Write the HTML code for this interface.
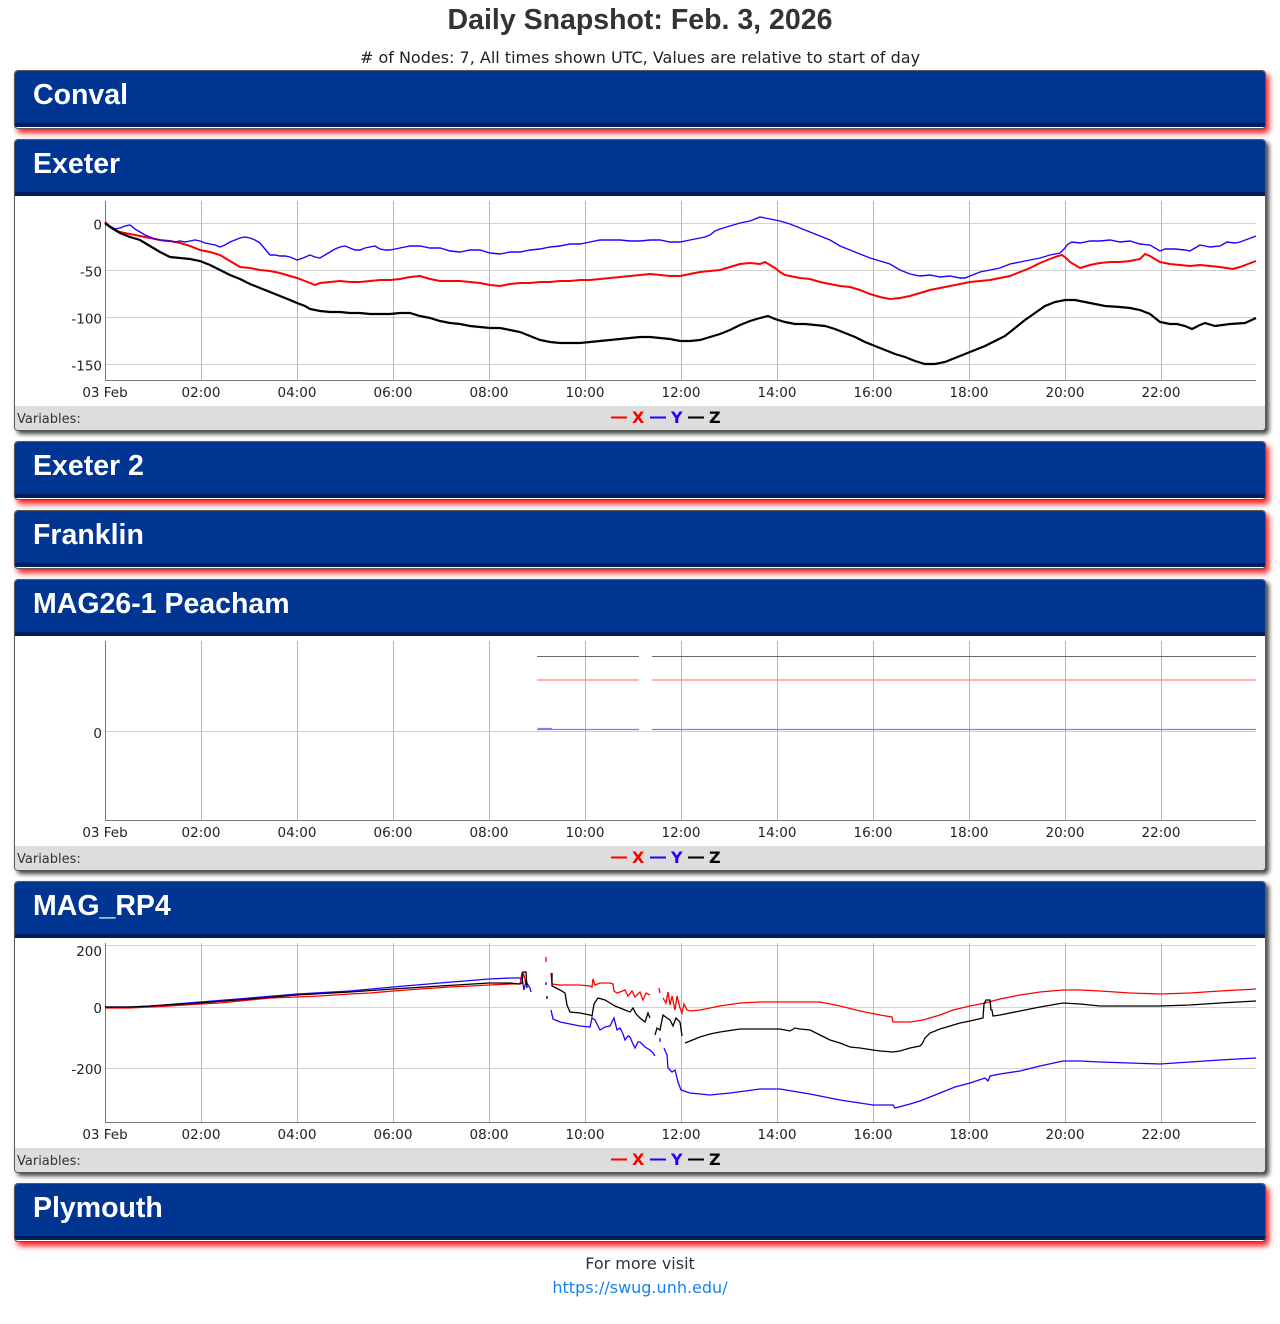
<!DOCTYPE html>
<html><head><meta charset="utf-8">
<style>
html,body{margin:0;padding:0;}
body{width:1280px;height:1324px;position:relative;background:#fff;overflow:hidden;font-family:"Liberation Sans","DejaVu Sans",sans-serif;}
.p{position:absolute;left:14px;width:1252px;box-sizing:border-box;border:1px solid #5a5a5a;border-radius:4px;background:#fff;overflow:hidden;}
.c{height:59px;box-shadow:3px 4px 6px rgba(255,0,0,0.9);}
.e{height:292px;box-shadow:3px 3px 5px rgba(0,0,0,0.75);}
.h{height:52px;background:#003591;border-bottom:4px solid #001e5c;}
.ch{height:210px;background:#fff;}
.vb{height:24px;background:#dddddd;}
svg{position:absolute;left:0;top:0;}
</style></head>
<body>
<div class="p c" style="top:70px"><div class="h"></div></div>
<div class="p e" style="top:139px"><div class="h"></div><div class="ch"></div><div class="vb"></div></div>
<div class="p c" style="top:441px"><div class="h"></div></div>
<div class="p c" style="top:510px"><div class="h"></div></div>
<div class="p e" style="top:579px"><div class="h"></div><div class="ch"></div><div class="vb"></div></div>
<div class="p e" style="top:881px"><div class="h"></div><div class="ch"></div><div class="vb"></div></div>
<div class="p c" style="top:1183px"><div class="h"></div></div>

<svg width="1280" height="1324" viewBox="0 0 1280 1324" xmlns="http://www.w3.org/2000/svg">
<text x="640" y="29" font-family="Liberation Sans, sans-serif" font-weight="bold" font-size="28.5" fill="#333" text-anchor="middle">Daily Snapshot: Feb. 3, 2026</text>
<text x="640" y="63" font-family="DejaVu Sans, sans-serif" font-size="16" fill="#222" text-anchor="middle"># of Nodes: 7, All times shown UTC, Values are relative to start of day</text>

<g font-family="Liberation Sans, sans-serif" font-weight="bold" font-size="28.5" fill="#fff">
<text x="33" y="104">Conval</text>
<text x="33" y="173">Exeter</text>
<text x="33" y="475">Exeter 2</text>
<text x="33" y="544">Franklin</text>
<text x="33" y="613">MAG26-1 Peacham</text>
<text x="33" y="915">MAG_RP4</text>
<text x="33" y="1217">Plymouth</text>
</g>

<!-- ===== Exeter chart ===== -->
<g>
<g stroke="#d2d2d2" stroke-width="1">
<line x1="105" y1="223.5" x2="1256" y2="223.5"/>
<line x1="105" y1="270.5" x2="1256" y2="270.5"/>
<line x1="105" y1="317.5" x2="1256" y2="317.5"/>
<line x1="105" y1="364.5" x2="1256" y2="364.5"/>
</g>
<g stroke="#b8b8b8" stroke-width="1">
<line x1="201.5" y1="201" x2="201.5" y2="380"/><line x1="297.5" y1="201" x2="297.5" y2="380"/>
<line x1="393.5" y1="201" x2="393.5" y2="380"/><line x1="489.5" y1="201" x2="489.5" y2="380"/>
<line x1="585.5" y1="201" x2="585.5" y2="380"/><line x1="681.5" y1="201" x2="681.5" y2="380"/>
<line x1="777.5" y1="201" x2="777.5" y2="380"/><line x1="873.5" y1="201" x2="873.5" y2="380"/>
<line x1="969.5" y1="201" x2="969.5" y2="380"/><line x1="1065.5" y1="201" x2="1065.5" y2="380"/>
<line x1="1161.5" y1="201" x2="1161.5" y2="380"/>
</g>
<g stroke="#777" stroke-width="1">
<line x1="105.5" y1="201" x2="105.5" y2="380.5"/>
<line x1="105" y1="380.5" x2="1256" y2="380.5"/>
</g>
<g font-family="DejaVu Sans, sans-serif" font-size="13.5" fill="#222" text-anchor="end">
<text x="102" y="229.5">0</text><text x="102" y="276.5">-50</text><text x="102" y="323.5">-100</text><text x="102" y="370.5">-150</text>
</g>
<g font-family="DejaVu Sans, sans-serif" font-size="13.5" fill="#222" text-anchor="middle">
<text x="105" y="397">03 Feb</text><text x="201" y="397">02:00</text><text x="297" y="397">04:00</text><text x="393" y="397">06:00</text><text x="489" y="397">08:00</text><text x="585" y="397">10:00</text><text x="681" y="397">12:00</text><text x="777" y="397">14:00</text><text x="873" y="397">16:00</text><text x="969" y="397">18:00</text><text x="1065" y="397">20:00</text><text x="1161" y="397">22:00</text>
</g>
<polyline fill="none" stroke="#ff0000" stroke-width="2" points="105,222 110,227 115,230 120,232 130,234 140,236 150,238 160,240 170,241 180,243 190,246 200,250 210,252 220,255 230,261 240,267 250,268 260,270 270,271 280,273 290,276 297,278 305,281 315,285 320,283 330,282 340,281 350,282 360,282 370,281 380,280 390,280 400,279 410,277 420,276 430,279 440,281 450,281 460,281 470,282 480,283 490,285 500,286 510,284 520,283 530,283 540,282 550,282 560,281 570,281 580,280 590,280 600,279 610,278 620,277 630,276 640,275 650,274 660,275 670,276 680,276 690,274 700,272 710,271 720,270 730,267 740,264 750,263 760,264 765,262 770,265 775,268 780,272 785,275 790,276 800,278 810,279 820,282 830,284 840,286 850,287 860,290 870,294 880,297 890,299 900,298 910,296 920,293 930,290 940,288 950,286 960,284 970,282 980,281 990,280 1000,278 1010,276 1020,272 1030,268 1040,263 1050,259 1058,256 1062,255 1066,258 1070,262 1080,268 1090,265 1100,263 1110,262 1120,262 1130,261 1140,259 1145,254 1150,256 1155,259 1160,262 1170,264 1180,265 1190,266 1200,265 1210,266 1220,267 1233,269 1240,267 1248,264 1256,261"/>
<polyline fill="none" stroke="#2200ff" stroke-width="1.4" points="105,223 110,226 115,229 120,228 125,226 130,225 135,229 140,232 145,235 150,237 155,239 160,240 165,241 170,241 175,242 180,241 185,242 190,241 195,240 200,241 205,243 210,244 215,245 220,247 225,245 230,242 235,240 240,238 245,237 250,238 255,240 260,243 265,249 270,255 275,255 280,256 285,256 290,257 297,260 303,258 310,255 315,257 320,258 325,255 330,252 335,249 340,247 345,246 350,248 355,250 360,250 365,248 370,247 375,246 380,249 385,250 390,250 395,249 400,248 410,246 420,246 430,248 440,248 450,251 460,252 470,250 480,250 490,253 500,254 510,252 520,252 530,250 540,249 550,247 560,246 570,244 580,244 590,242 600,240 610,240 620,240 630,241 640,241 650,240 660,240 670,242 680,242 690,240 700,238 705,237 710,235 715,231 720,229 730,226 740,223 750,221 755,219 760,217 765,218 770,219 780,221 790,224 800,228 810,232 820,236 830,240 840,246 850,250 860,254 870,258 880,261 890,264 900,270 910,274 920,276 930,275 940,277 950,276 960,278 965,278 970,276 980,272 990,270 1000,268 1010,264 1020,262 1030,260 1040,258 1050,255 1060,253 1064,249 1068,244 1072,242 1080,243 1090,241 1100,241 1110,240 1120,242 1130,241 1140,244 1150,245 1155,248 1160,251 1165,249 1175,249 1185,250 1190,251 1195,248 1200,245 1210,247 1220,246 1227,242 1235,243 1240,242 1248,239 1256,236"/>
<polyline fill="none" stroke="#000" stroke-width="2.2" points="105,223 110,227 120,233 130,237 140,240 150,246 160,252 170,257 180,258 190,259 200,261 210,265 220,270 230,275 240,279 250,284 260,288 270,292 280,296 290,300 297,303 305,306 310,309 320,311 330,312 340,312 350,313 360,313 370,314 380,314 390,314 400,313 410,313 420,316 430,318 440,321 450,323 460,324 470,326 480,327 490,328 500,328 510,330 520,332 530,336 540,340 550,342 560,343 570,343 580,343 590,342 600,341 610,340 620,339 630,338 640,337 650,337 660,338 670,339 680,341 690,341 700,340 710,337 720,334 730,330 740,325 750,321 760,318 768,316 775,319 785,322 795,324 805,324 815,325 825,326 835,329 845,333 855,337 865,342 875,346 885,350 895,354 905,357 915,361 925,364 935,364 945,362 955,358 965,354 975,350 985,346 995,341 1005,336 1015,328 1025,320 1035,313 1045,306 1055,302 1065,300 1075,300 1085,302 1095,304 1105,306 1120,307 1130,308 1140,310 1150,314 1160,322 1170,324 1177,324 1185,326 1192,329 1200,325 1205,323 1215,326 1230,324 1245,323 1256,318"/>
</g>

<!-- ===== Peacham chart ===== -->
<g>
<line x1="105" y1="731.5" x2="1256" y2="731.5" stroke="#d2d2d2"/>
<g stroke="#b8b8b8" stroke-width="1">
<line x1="201.5" y1="641" x2="201.5" y2="820"/><line x1="297.5" y1="641" x2="297.5" y2="820"/>
<line x1="393.5" y1="641" x2="393.5" y2="820"/><line x1="489.5" y1="641" x2="489.5" y2="820"/>
<line x1="585.5" y1="641" x2="585.5" y2="820"/><line x1="681.5" y1="641" x2="681.5" y2="820"/>
<line x1="777.5" y1="641" x2="777.5" y2="820"/><line x1="873.5" y1="641" x2="873.5" y2="820"/>
<line x1="969.5" y1="641" x2="969.5" y2="820"/><line x1="1065.5" y1="641" x2="1065.5" y2="820"/>
<line x1="1161.5" y1="641" x2="1161.5" y2="820"/>
</g>
<g stroke="#777" stroke-width="1">
<line x1="105.5" y1="641" x2="105.5" y2="820.5"/>
<line x1="105" y1="820.5" x2="1256" y2="820.5"/>
</g>
<text x="102" y="738" font-family="DejaVu Sans, sans-serif" font-size="13.5" fill="#222" text-anchor="end">0</text>
<g font-family="DejaVu Sans, sans-serif" font-size="13.5" fill="#222" text-anchor="middle">
<text x="105" y="837">03 Feb</text><text x="201" y="837">02:00</text><text x="297" y="837">04:00</text><text x="393" y="837">06:00</text><text x="489" y="837">08:00</text><text x="585" y="837">10:00</text><text x="681" y="837">12:00</text><text x="777" y="837">14:00</text><text x="873" y="837">16:00</text><text x="969" y="837">18:00</text><text x="1065" y="837">20:00</text><text x="1161" y="837">22:00</text>
</g>
<path d="M537,656.5 H639 M652,656.5 H1256" stroke="#6a6a6a" stroke-width="1" fill="none"/>
<path d="M537,680 H639 M652,680 H1256" stroke="#ff9a9a" stroke-width="1.6" fill="none"/>
<path d="M537,729.5 H639 M652,729.5 H1256 M538,728.5 H552" stroke="#7a7aff" stroke-width="1.2" fill="none"/>
</g>

<!-- ===== MAG_RP4 chart ===== -->
<g>
<g stroke="#d2d2d2" stroke-width="1">
<line x1="105" y1="945.5" x2="1256" y2="945.5"/>
<line x1="105" y1="1007.5" x2="1256" y2="1007.5"/>
<line x1="105" y1="1068.5" x2="1256" y2="1068.5"/>
</g>
<g stroke="#b8b8b8" stroke-width="1">
<line x1="201.5" y1="943" x2="201.5" y2="1122"/><line x1="297.5" y1="943" x2="297.5" y2="1122"/>
<line x1="393.5" y1="943" x2="393.5" y2="1122"/><line x1="489.5" y1="943" x2="489.5" y2="1122"/>
<line x1="585.5" y1="943" x2="585.5" y2="1122"/><line x1="681.5" y1="943" x2="681.5" y2="1122"/>
<line x1="777.5" y1="943" x2="777.5" y2="1122"/><line x1="873.5" y1="943" x2="873.5" y2="1122"/>
<line x1="969.5" y1="943" x2="969.5" y2="1122"/><line x1="1065.5" y1="943" x2="1065.5" y2="1122"/>
<line x1="1161.5" y1="943" x2="1161.5" y2="1122"/>
</g>
<g stroke="#777" stroke-width="1">
<line x1="105.5" y1="943" x2="105.5" y2="1122.5"/>
<line x1="105" y1="1122.5" x2="1256" y2="1122.5"/>
</g>
<g font-family="DejaVu Sans, sans-serif" font-size="13.5" fill="#222" text-anchor="end">
<text x="102" y="956">200</text><text x="102" y="1013">0</text><text x="102" y="1074">-200</text>
</g>
<g font-family="DejaVu Sans, sans-serif" font-size="13.5" fill="#222" text-anchor="middle">
<text x="105" y="1139">03 Feb</text><text x="201" y="1139">02:00</text><text x="297" y="1139">04:00</text><text x="393" y="1139">06:00</text><text x="489" y="1139">08:00</text><text x="585" y="1139">10:00</text><text x="681" y="1139">12:00</text><text x="777" y="1139">14:00</text><text x="873" y="1139">16:00</text><text x="969" y="1139">18:00</text><text x="1065" y="1139">20:00</text><text x="1161" y="1139">22:00</text>
</g>
<g fill="none" stroke="#ff0000" stroke-width="1.3">
<polyline points="105,1008 130,1008 150,1007 170,1006 200,1004 220,1003 250,1000 270,998 297,997 320,996 350,994 370,993 393,991 420,989 450,987 470,986 489,985 510,984 520,984 522,973 524,975 526,985"/>
<polyline points="546,957 546,962"/>
<polyline points="551,973 552,984 560,985 570,985 580,985 590,986 592,987 593,979 595,985 600,983 610,983 613,984 614,991 617,993 620,992 625,990 628,996 632,991 635,997 640,992 643,1000 646,993 650,995"/>
<polyline points="659,988 660,993"/>
<polyline points="663,998 666,1003 668,992 670,1005 672,996 675,1010 677,996 680,1008 682,1013 684,1004 687,1010 690,1011 700,1010 720,1006 740,1003 760,1002 780,1002 800,1002 820,1002 840,1006 860,1011 880,1015 892,1017 893,1022 910,1022 923,1020 940,1015 953,1010 970,1006 985,1003 1000,999 1020,995 1040,992 1063,990 1080,990 1100,991 1130,993 1160,994 1190,993 1220,991 1256,989"/>
</g>
<g fill="none" stroke="#2200ff" stroke-width="1.3">
<polyline points="105,1007 130,1007 150,1006 200,1002 250,998 297,994 350,991 393,987 440,983 489,979 510,978 522,978 524,990 526,981 528,985 530,988 531,992"/>
<polyline points="546,982 546,985"/>
<polyline points="551,1010 553,1019 560,1022 570,1024 580,1026 590,1027 592,1018 595,1020 597,1024 600,1030 605,1027 610,1026 614,1018 617,1030 620,1028 623,1034 625,1040 628,1036 630,1037 633,1044 635,1048 638,1042 640,1042 645,1047 650,1050 653,1053 655,1056"/>
<polyline points="660,1038 660,1042"/>
<polyline points="664,1048 667,1055 668,1068 672,1072 675,1070 678,1082 681,1090 690,1093 700,1094 710,1095 730,1093 760,1089 780,1089 810,1094 840,1100 873,1105 893,1105 895,1108 910,1104 920,1101 930,1097 940,1093 955,1087 970,1083 985,1078 988,1081 990,1076 1000,1074 1020,1071 1040,1066 1063,1061 1080,1061 1100,1062 1130,1063 1160,1064 1190,1062 1220,1060 1256,1058"/>
</g>
<g fill="none" stroke="#000" stroke-width="1.3">
<polyline points="105,1007 130,1007 150,1006 200,1003 250,999 297,995 350,992 393,989 440,986 489,983 510,983 520,984 522,983 523,972 526,972 527,988"/>
<polyline points="547,996 547,999"/>
<polyline points="552,973 552,986 560,990 565,993 567,1005 570,1012 580,1013 590,1015 592,1016 594,1004 598,998 605,1000 610,1003 615,1006 620,1008 625,1010 630,1012 633,1008 636,1014 640,1018 645,1022 648,1013 650,1018"/>
<polyline points="655,1035 657,1028 660,1030 663,1015 667,1018 670,1020 673,1026 676,1018 680,1022 682,1036"/>
<polyline points="685,1043 690,1041 700,1037 710,1034 720,1032 740,1029 760,1029 780,1029 790,1031 795,1028 800,1029 810,1030 820,1035 830,1040 840,1043 850,1047 860,1048 873,1050 880,1051 893,1052 900,1051 910,1048 920,1046 922,1044 925,1038 930,1033 940,1029 950,1026 960,1023 970,1021 983,1018 984,1004 986,1000 990,1000 991,1010 992,1010 993,1016 1000,1015 1020,1011 1040,1007 1063,1003 1080,1004 1100,1006 1130,1006 1160,1006 1190,1005 1220,1003 1256,1001"/>
</g>
</g>

<!-- Variables bars -->
<g font-family="DejaVu Sans, sans-serif" font-size="13" fill="#333">
<text x="17" y="423">Variables:</text>
<text x="17" y="863">Variables:</text>
<text x="17" y="1165">Variables:</text>
</g>
<g font-family="DejaVu Sans, sans-serif" font-weight="bold" font-size="16">
<g>
<line x1="611" y1="417.5" x2="627" y2="417.5" stroke="#ff0000" stroke-width="2"/><text x="632" y="423" fill="#ff0000">X</text>
<line x1="650" y1="417.5" x2="666" y2="417.5" stroke="#2200ff" stroke-width="2"/><text x="671" y="423" fill="#2200ff">Y</text>
<line x1="688" y1="417.5" x2="704" y2="417.5" stroke="#000" stroke-width="2"/><text x="709" y="423" fill="#000">Z</text>
</g>
<g>
<line x1="611" y1="857.5" x2="627" y2="857.5" stroke="#ff0000" stroke-width="2"/><text x="632" y="863" fill="#ff0000">X</text>
<line x1="650" y1="857.5" x2="666" y2="857.5" stroke="#2200ff" stroke-width="2"/><text x="671" y="863" fill="#2200ff">Y</text>
<line x1="688" y1="857.5" x2="704" y2="857.5" stroke="#000" stroke-width="2"/><text x="709" y="863" fill="#000">Z</text>
</g>
<g>
<line x1="611" y1="1159.5" x2="627" y2="1159.5" stroke="#ff0000" stroke-width="2"/><text x="632" y="1165" fill="#ff0000">X</text>
<line x1="650" y1="1159.5" x2="666" y2="1159.5" stroke="#2200ff" stroke-width="2"/><text x="671" y="1165" fill="#2200ff">Y</text>
<line x1="688" y1="1159.5" x2="704" y2="1159.5" stroke="#000" stroke-width="2"/><text x="709" y="1165" fill="#000">Z</text>
</g>
</g>

<!-- Footer -->
<text x="640" y="1269" font-family="DejaVu Sans, sans-serif" font-size="16" fill="#333" text-anchor="middle">For more visit</text>
<text x="640" y="1293" font-family="DejaVu Sans, sans-serif" font-size="16" fill="#1582f0" text-anchor="middle">https://swug.unh.edu/</text>
</svg>
</body></html>
